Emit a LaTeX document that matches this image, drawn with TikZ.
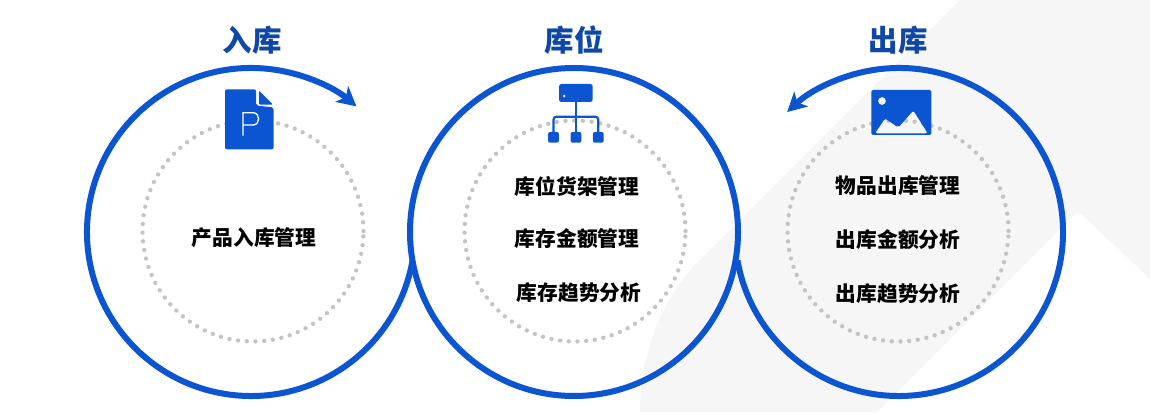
\documentclass[tikz,border=0pt]{standalone}
\usepackage{fontspec}
\newfontfamily\cjk{Noto Sans CJK SC}
\usetikzlibrary{arrows.meta,positioning}
\definecolor{ringblue}{HTML}{0B55D3}
\definecolor{titleblue}{HTML}{0F47A8}
\definecolor{dotgrey}{HTML}{C4C4C4}
\definecolor{backgrey}{HTML}{F6F6F7}

\begin{document}
\begin{tikzpicture}[x=1pt,y=1pt,>={Stealth[length=19pt,width=20pt,inset=5pt]},node distance=53pt,
	ring/.style={draw=ringblue,line width=6pt},
	ringnode/.style={circle,ring,minimum size=328pt,inner sep=0pt,outer sep=0pt},
	dotring/.style={circle,draw=dotgrey,line width=4.4pt,line cap=round,dash pattern=on 0pt off 8.72pt,minimum size=221pt,inner sep=0pt,outer sep=0pt},
	heading/.style={text=titleblue,font=\cjk\bfseries\fontsize{29.5}{32}\selectfont},
	item/.style={text=black,font=\cjk\bfseries\fontsize{20.7}{24}\selectfont},
	iconfill/.style={fill=ringblue,draw=none}]
	\useasboundingbox (0,0) rectangle (1150,412);

	% background band
	\fill[backgrey] (960,412) -- (697,149) .. controls (660,112) and (640,55) .. (640,0)
		-- (877,0) [rounded corners=5pt] -- (1078,201) [rounded corners=0pt] -- (1150,133) -- (1150,412) -- cycle;

	% rings
	\coordinate (inStart) at (251,180);
	\coordinate (outStart) at (899,180);
	\draw[ring,->] (inStart) ++(-10:164) arc (-10:-310:164);
	\draw[ring,->] (outStart) ++(190:164) arc (190:493:164);
	\node[ringnode] (midRing) at (574,180) {};

	\node[dotring] (inDots) at (253,181) {};
	\node[dotring] (midDots) at (575,181) {};
	\node[dotring] (outDots) at (898,181) {};

	% headings
	\node[heading] (inTitle) at (252,372) {入库};
	\node[heading] (midTitle) at (574,372) {库位};
	\node[heading] (outTitle) at (898,372) {出库};

	% items
	\node[item] (inA) at (254,174) {产品入库管理};
	\node[item] (midA) at (577,226) {库位货架管理};
	\node[item] (midB) [below of=midA] {库存金额管理};
	\node[item] (midC) [below of=midB,xshift=2pt,yshift=-1pt] {库存趋势分析};
	\node[item] (outA) at (898,226) {物品出库管理};
	\node[item] (outB) [below of=outA,yshift=-1pt] {出库金额分析};
	\node[item] (outC) [below of=outB,yshift=-1pt] {出库趋势分析};

	% document icon
	\fill[iconfill,rounded corners=2pt] (225,322.7) -- (256,322.7) -- (256,306.5) -- (273.7,304.5) -- (273.7,262.7) -- (225,262.7) -- cycle;
	\fill[iconfill,rounded corners=1pt] (259,321.5) -- (273,307.3) -- (259,307.3) -- cycle;
	\draw[white,line width=1.3pt] (243,276.3) -- (243,299.3) -- (253,299.3) .. controls (260.5,299.3) and (260.5,287) .. (253,287) -- (243,287);

	% rack icon
	\fill[iconfill,rounded corners=2.5pt] (559,310) rectangle (592.7,328);
	\fill[white] (564.3,316) circle (1.4);
	\draw[ringblue,line width=2.2pt] (575.8,310) -- (575.8,272);
	\draw[ringblue,line width=2.2pt,rounded corners=3pt] (553.5,272) -- (553.5,295.3) -- (598.3,295.3) -- (598.3,272);
	\foreach \boxx in {553.5,576,598.3}
		\fill[iconfill,rounded corners=2pt] (\boxx-5.4,269.3) rectangle (\boxx+5.4,280);

	% picture icon
	\fill[iconfill,even odd rule,rounded corners=1.5pt] (871.3,322) rectangle (931.3,277)
		(882,311) circle (4)
		[rounded corners=2pt] (875,278.7) -- (885,293.5) -- (898.3,284.5) -- (913.3,301.5) -- (927.7,278.7) -- cycle;
\end{tikzpicture}
\end{document}
